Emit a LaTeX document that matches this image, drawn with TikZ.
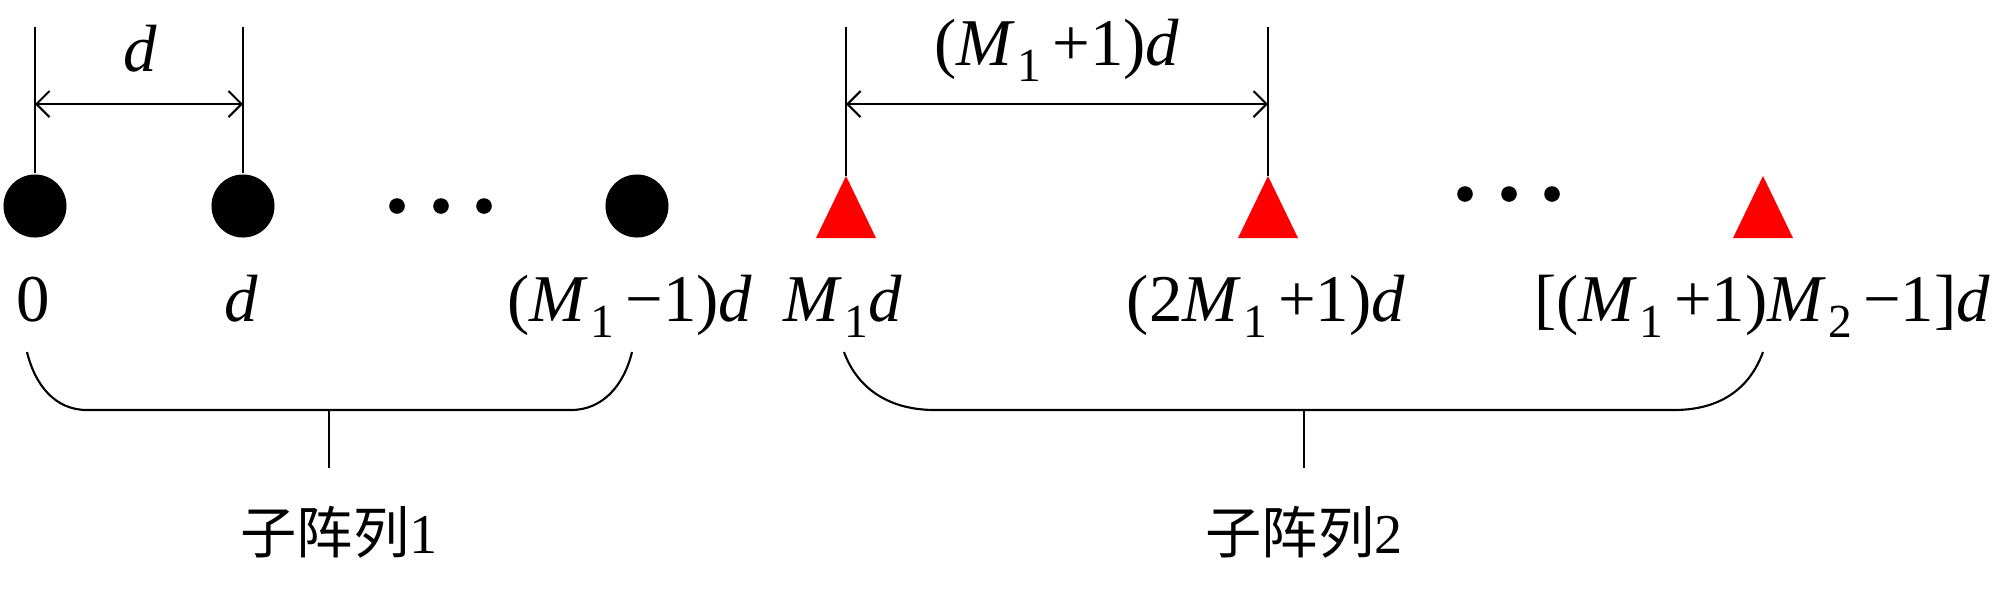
\documentclass[tikz,border=0pt]{standalone}
\usepackage{fontspec}
\setmainfont{Liberation Serif}
\newfontfamily\cjk{Noto Sans CJK SC}
\usetikzlibrary{arrows.meta,positioning,calc}
\definecolor{ElemRed}{HTML}{FF0000}
\newcommand{\Msub}[1]{\textit{M}\kern0.03em\raisebox{-0.24em}{\fontsize{13.5}{14}\selectfont #1}}

\begin{document}
\begin{tikzpicture}[x=0.01cm,y=-0.01cm,line width=0.6pt,
    dotelem/.style={circle,fill=black,inner sep=0pt,minimum size=6.3mm},
    gapdot/.style={circle,fill=black,inner sep=0pt,minimum size=1.56mm},
    lbl/.style={anchor=base,inner sep=0pt,font=\fontsize{19}{23}\selectfont},
    sublbl/.style={inner sep=0pt,font=\fontsize{16}{19}\selectfont},
    dimarrow/.style={{Straight Barb[length=3.7pt,width=7.4pt]}-{Straight Barb[length=3.7pt,width=7.4pt]}},
  ]
  \useasboundingbox (0,0) rectangle (1999,590);
  \coordinate (top) at (0,27);
  \coordinate (arr) at (0,104);
  % subarray 1: circles
  \foreach \n/\x in {1/35,2/243,3/637} {
    \node[dotelem] (e\n) at (\x,206) {};
  }
  \foreach \n/\x in {1/397,2/441,3/484} {
    \node[gapdot] (ga\n) at (\x,206) {};
  }
  % subarray 2: triangles
  \foreach \n/\x in {1/846,2/1268,3/1763} {
    \coordinate (t\n) at (\x,176);
    \fill[ElemRed] (t\n) -- ++(30,62) -- ++(-60,0) -- cycle;
  }
  \foreach \n/\x in {1/1465,2/1509,3/1552} {
    \node[gapdot] (gb\n) at (\x,194) {};
  }
  % spacings
  \draw (e1.north) -- (e1.north |- top);
  \draw (e2.north) -- (e2.north |- top);
  \draw[dimarrow] (e1.north |- arr) -- (e2.north |- arr);
  \node[lbl] (dA) at (140,71) {\textit{d}};
  \draw (t1) -- (t1 |- top);
  \draw (t2) -- (t2 |- top);
  \draw[dimarrow] (t1 |- arr) -- (t2 |- arr);
  \node[lbl] (dB) at (1057,65) {(\Msub{1}\,+1)\textit{d}};
  % positions
  \node[lbl] (p0) at (33,321) {0};
  \node[lbl] (p1) at (241,321) {\textit{d}};
  \node[lbl] (p2) at (630,321) {(\Msub{1}\,−1)\textit{d}};
  \node[lbl] (p3) at (843,321) {\Msub{1}\textit{d}};
  \node[lbl] (p4) at (1266,321) {(2\Msub{1}\,+1)\textit{d}};
  \node[lbl] (p5) at (1762,321) {[(\Msub{1}\,+1)\Msub{2}\,−1]\textit{d}};
  % braces
  \coordinate (b1l) at (27,352);
  \coordinate (b1r) at (632,352);
  \coordinate (b1m) at (329,410);
  \coordinate (s1top) at (329,468);
  \draw (b1l) .. controls (35,385) and (55,410) .. (87,410) -- (571,410)
    .. controls (603,410) and (624,385) .. (b1r);
  \draw (b1m) -- (s1top);
  \node[sublbl] (s1) at (339,532) {{\cjk 子阵列}1};
  \coordinate (b2l) at (844,352);
  \coordinate (b2r) at (1763,352);
  \coordinate (b2m) at (1304,410);
  \coordinate (s2top) at (1304,468);
  \draw (b2l) .. controls (856,385) and (885,410) .. (935,410) -- (1674,410)
    .. controls (1724,410) and (1751,385) .. (b2r);
  \draw (b2m) -- (s2top);
  \node[sublbl] (s2) at (1304,532) {{\cjk 子阵列}2};
\end{tikzpicture}
\end{document}
